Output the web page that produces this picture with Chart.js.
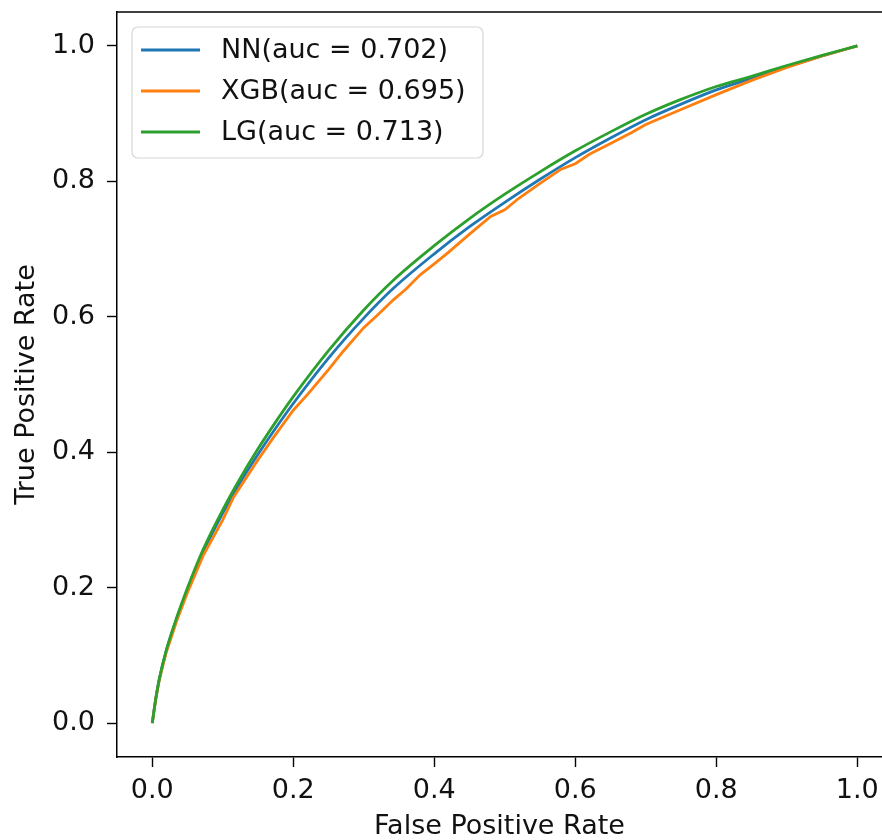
<!DOCTYPE html>
<html>
<head>
<meta charset="utf-8">
<script src="https://cdn.jsdelivr.net/npm/chart.js@4.4.1/dist/chart.umd.min.js"></script>
<style>
  html, body { margin: 0; padding: 0; background: #fff; overflow: hidden; }
  canvas { display: block; }
</style>
</head>
<body>
<canvas id="rocChart" width="882" height="840"></canvas>
<script>
// ROC curves for the three models
var fprGrid = [0, 0.005, 0.01, 0.02, 0.035, 0.05, 0.072, 0.1, 0.125, 0.15, 0.172, 0.2, 0.25, 0.3, 0.342,
    0.4, 0.45, 0.5, 0.55, 0.6, 0.65, 0.7, 0.75, 0.8, 0.85, 0.9, 0.95, 1.0];
var tprNN = [0, 0.036, 0.065, 0.107, 0.155, 0.197, 0.252, 0.31, 0.356, 0.397, 0.431, 0.472, 0.539, 0.598, 0.642,
    0.693, 0.733, 0.769, 0.803, 0.835, 0.864, 0.891, 0.914, 0.935, 0.952, 0.969, 0.985, 1.0];
var tprLG = [0, 0.036, 0.065, 0.108, 0.157, 0.2, 0.256, 0.315, 0.362, 0.405, 0.44, 0.482, 0.55, 0.61, 0.654,
    0.705, 0.745, 0.781, 0.814, 0.845, 0.873, 0.899, 0.921, 0.94, 0.955, 0.971, 0.986, 1.0];

var fprXGB = [0, 0.005, 0.01, 0.02, 0.035, 0.05, 0.072, 0.1, 0.115, 0.125, 0.15, 0.172, 0.2, 0.22, 0.25, 0.27,
    0.3, 0.32, 0.342, 0.36, 0.38, 0.4, 0.42, 0.45, 0.48, 0.5, 0.52, 0.55, 0.58, 0.6, 0.62, 0.65, 0.68, 0.7,
    0.75, 0.8, 0.85, 0.9, 0.95, 1.0];
var tprXGB = [0, 0.036, 0.064, 0.105, 0.152, 0.193, 0.247, 0.3, 0.333, 0.349, 0.389, 0.422, 0.462, 0.485, 0.522, 0.548,
    0.584, 0.603, 0.625, 0.641, 0.662, 0.678, 0.695, 0.722, 0.748, 0.758, 0.775, 0.797, 0.818, 0.826, 0.84, 0.856, 0.872, 0.884,
    0.906, 0.928, 0.949, 0.968, 0.985, 1.0];

var seriesLabels = ['NN(auc = 0.702)', 'XGB(auc = 0.695)', 'LG(auc = 0.713)'];
var seriesColors = ['#1f77b4', '#ff7f0e', '#2ca02c'];

var xTicks = [0, 0.2, 0.4, 0.6, 0.8, 1.0];
var yTicks = [0, 0.2, 0.4, 0.6, 0.8, 1.0];

var FONT = 'DejaVu Sans';
var FONT_SIZE = 27;
var TEXT = '#111';

function toPoints(xs, ys) {
    return xs.map(function (x, i) { return { x: x, y: ys[i] }; });
}

// top spine; the right one falls outside the figure
var frame = {
    id: 'frame',
    afterDraw: function (chart) {
        var a = chart.chartArea, ctx = chart.ctx;
        ctx.save();
        ctx.strokeStyle = '#000';
        ctx.lineWidth = 1.5;
        ctx.beginPath();
        ctx.moveTo(a.left, a.top);
        ctx.lineTo(a.right, a.top);
        ctx.stroke();
        ctx.restore();
    }
};

// legend box in the upper-left corner of the axes
var boxLegend = {
    id: 'boxLegend',
    afterDraw: function (chart) {
        var a = chart.chartArea, ctx = chart.ctx;
        var x = a.left + 15, y = a.top + 15, w = 351, h = 131, r = 6;
        ctx.save();
        ctx.beginPath();
        ctx.moveTo(x + r, y);
        ctx.arcTo(x + w, y, x + w, y + h, r);
        ctx.arcTo(x + w, y + h, x, y + h, r);
        ctx.arcTo(x, y + h, x, y, r);
        ctx.arcTo(x, y, x + w, y, r);
        ctx.closePath();
        ctx.fillStyle = 'rgba(255,255,255,0.8)';
        ctx.fill();
        ctx.strokeStyle = '#d6d6d6';
        ctx.lineWidth = 1.2;
        ctx.stroke();

        ctx.font = FONT_SIZE + 'px "' + FONT + '"';
        ctx.textBaseline = 'middle';
        ctx.fillStyle = TEXT;
        chart.data.datasets.forEach(function (ds, i) {
            var cy = y + 23 + i * 41;
            ctx.strokeStyle = ds.borderColor;
            ctx.lineWidth = 2.8;
            ctx.beginPath();
            ctx.moveTo(x + 9, cy);
            ctx.lineTo(x + 68, cy);
            ctx.stroke();
            ctx.fillText(ds.label, x + 89, cy + 1);
        });
        ctx.restore();
    }
};

function fixedTicks(values) {
    return function (axis) {
        axis.ticks = values.map(function (v) { return { value: v }; });
    };
}

new Chart(document.getElementById('rocChart').getContext('2d'), {
    type: 'scatter',
    data: {
        datasets: [
            {
                label: seriesLabels[0],
                data: toPoints(fprGrid, tprNN),
                borderColor: seriesColors[0],
                order: 3,
                cubicInterpolationMode: 'monotone'
            },
            {
                label: seriesLabels[1],
                data: toPoints(fprXGB, tprXGB),
                borderColor: seriesColors[1],
                order: 2,
                tension: 0
            },
            {
                label: seriesLabels[2],
                data: toPoints(fprGrid, tprLG),
                borderColor: seriesColors[2],
                order: 1,
                cubicInterpolationMode: 'monotone'
            }
        ].map(function (ds) {
            ds.showLine = true;
            ds.pointRadius = 0;
            ds.borderWidth = 2.8;
            ds.backgroundColor = ds.borderColor;
            ds.fill = false;
            return ds;
        })
    },
    plugins: [frame, boxLegend],
    options: {
        responsive: false,
        animation: false,
        events: [],
        layout: { padding: { top: 12, left: 0, right: 0, bottom: 0 } },
        plugins: {
            legend: { display: false },
            tooltip: { enabled: false }
        },
        scales: {
            x: {
                type: 'linear',
                // figure is cropped before the right end of the axes
                min: -0.05,
                max: 1.035,
                afterBuildTicks: fixedTicks(xTicks),
                afterFit: function (s) {
                    s.height = 83;
                    s.paddingLeft = 0;
                    s.paddingRight = 0;
                },
                ticks: {
                    font: { family: FONT, size: FONT_SIZE, lineHeight: 1 },
                    color: TEXT,
                    padding: 10,
                    maxRotation: 0,
                    autoSkip: false,
                    callback: function (v) { return v.toFixed(1); }
                },
                grid: { drawOnChartArea: false, tickLength: 10, tickColor: '#000', tickWidth: 1.4 },
                border: { color: '#000', width: 1.5 },
                title: {
                    display: true,
                    text: 'False Positive Rate',
                    color: TEXT,
                    font: { family: FONT, size: FONT_SIZE, lineHeight: 1 },
                    padding: 0
                }
            },
            y: {
                type: 'linear',
                min: -0.05,
                max: 1.05,
                afterBuildTicks: fixedTicks(yTicks),
                afterFit: function (s) {
                    s.width = 117;
                    s.paddingTop = 0;
                    s.paddingBottom = 0;
                },
                ticks: {
                    font: { family: FONT, size: FONT_SIZE, lineHeight: 1 },
                    color: TEXT,
                    padding: 12,
                    autoSkip: false,
                    callback: function (v) { return v.toFixed(1); }
                },
                grid: { drawOnChartArea: false, tickLength: 10, tickColor: '#000', tickWidth: 1.4 },
                border: { color: '#000', width: 1.5 },
                title: {
                    display: true,
                    text: 'True Positive Rate',
                    color: TEXT,
                    font: { family: FONT, size: FONT_SIZE, lineHeight: 1 },
                    padding: { top: 13, bottom: 0 }
                }
            }
        }
    }
});
</script>
</body>
</html>
